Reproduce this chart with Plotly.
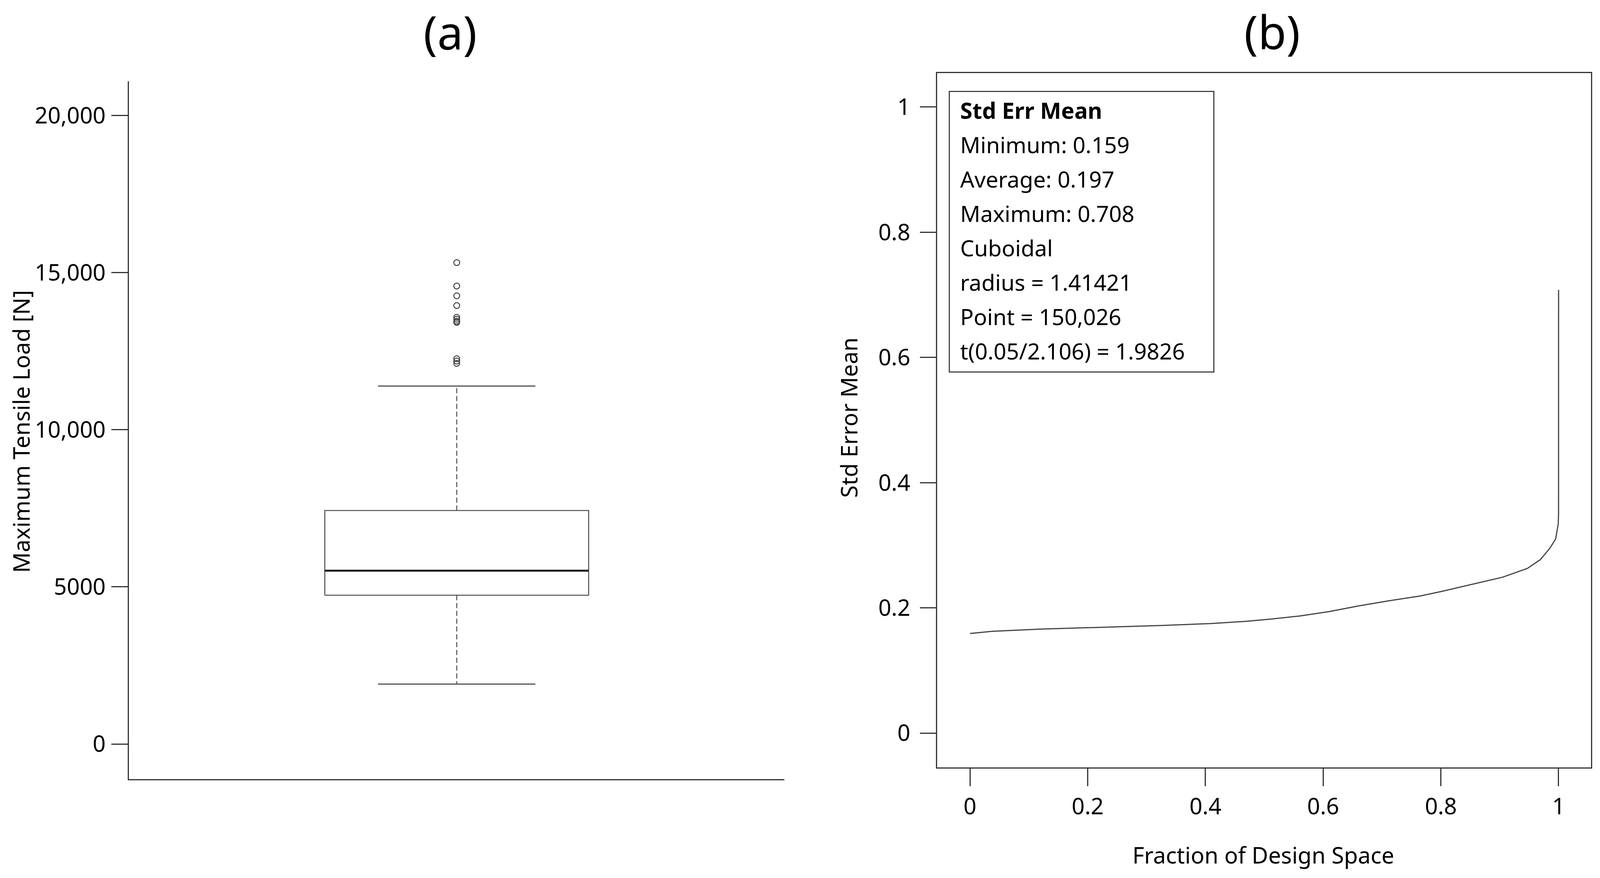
import plotly.graph_objects as go

# ---------------- data ----------------
# Panel (a): Maximum tensile load box-plot statistics [N]
box_q1 = 4735
box_median = 5515
box_q3 = 7430
whisker_low = 1905
whisker_high = 11390
outliers = [15320, 14574, 14263, 13952, 13580, 13517, 13455, 13418, 12261, 12187, 12112]
y_ticks_a = [0, 5000, 10000, 15000, 20000]
y_ticklabels_a = ["0", "5000", "10,000", "15,000", "20,000"]

# Panel (b): Fraction of design space curve
fds_x = [0.0, 0.04, 0.12, 0.23, 0.33, 0.41, 0.47, 0.51, 0.56, 0.61, 0.66, 0.71,
         0.765, 0.80, 0.865, 0.905, 0.947, 0.969, 0.985, 0.995, 0.9994, 0.99995, 1.0]
fds_y = [0.159, 0.1627, 0.166, 0.169, 0.172, 0.175, 0.1785, 0.182, 0.187, 0.194, 0.203, 0.211,
         0.219, 0.226, 0.240, 0.249, 0.263, 0.277, 0.295, 0.310, 0.334, 0.350, 0.708]
ticks_b = [0, 0.2, 0.4, 0.6, 0.8, 1]
ticklabels_b = ["0", "0.2", "0.4", "0.6", "0.8", "1"]

info_lines = ["<b>Std Err Mean</b>", "Minimum: 0.159", "Average: 0.197", "Maximum: 0.708",
              "Cuboidal", "radius = 1.41421", "Point = 150,026", "t(0.05/2.106) = 1.9826"]

# ---------------- style ----------------
RW, H = 4330, 2247          # reference layout size (positions below given in it)
W = 4096                    # usable browser width
SX = W / RW
FONT = "Noto Sans"
AX = "#333333"
LINE = "#444444"
center = 0.0
half_box = 0.4025
half_cap = 0.240
FS = 58

fig = go.Figure()

# box body
fig.add_trace(go.Scatter(
    x=[center - half_box, center + half_box, center + half_box, center - half_box, center - half_box],
    y=[box_q1, box_q1, box_q3, box_q3, box_q1],
    mode="lines", line=dict(color="#505050", width=2.6), xaxis="x", yaxis="y"))
# median
fig.add_trace(go.Scatter(
    x=[center - half_box, center + half_box], y=[box_median, box_median],
    mode="lines", line=dict(color="#1a1a1a", width=5), xaxis="x", yaxis="y"))
# whiskers (dashed)
fig.add_trace(go.Scatter(
    x=[center, center, None, center, center],
    y=[box_q3, whisker_high, None, box_q1, whisker_low],
    mode="lines", line=dict(color="#505050", width=2.5, dash="13px,7px"), xaxis="x", yaxis="y"))
# whisker caps
fig.add_trace(go.Scatter(
    x=[center - half_cap, center + half_cap, None, center - half_cap, center + half_cap],
    y=[whisker_high, whisker_high, None, whisker_low, whisker_low],
    mode="lines", line=dict(color="#505050", width=3), xaxis="x", yaxis="y"))
# outliers
fig.add_trace(go.Scatter(
    x=[center] * len(outliers), y=outliers, mode="markers",
    marker=dict(symbol="circle-open", size=15, color="#444444", line=dict(width=2.5)),
    xaxis="x", yaxis="y"))

# panel (b) curve
fig.add_trace(go.Scatter(x=fds_x, y=fds_y, mode="lines",
                         line=dict(color=LINE, width=3), xaxis="x2", yaxis="y2"))

tickfont = dict(family=FONT, size=FS, color="black")

fig.update_layout(
    width=W, height=H, autosize=False,
    margin=dict(l=0, r=0, t=0, b=0),
    paper_bgcolor="white", plot_bgcolor="white",
    showlegend=False,
    font=dict(family=FONT, color="black"),
    xaxis=dict(domain=[349 / RW, 2123 / RW], range=[-1, 1], showline=True, linecolor=AX,
               linewidth=3, showticklabels=False, ticks="", showgrid=False, zeroline=False,
               anchor="y"),
    yaxis=dict(domain=[(H - 1994) / H, (H - 208) / H], range=[-1119, 21090], showline=True,
               linecolor=AX, linewidth=3, tickvals=y_ticks_a, ticktext=y_ticklabels_a,
               ticks="outside", ticklen=round(44 * SX), tickwidth=3, tickcolor=AX, showgrid=False,
               zeroline=False, tickfont=tickfont, ticklabelstandoff=3, anchor="x"),
    xaxis2=dict(domain=[2536 / RW, 4306 / RW], range=[-0.0559, 1.0553], showline=True,
                mirror=True, linecolor=AX, linewidth=3, tickvals=ticks_b, ticktext=ticklabels_b,
                ticks="outside", ticklen=45, tickwidth=3, tickcolor=AX, showgrid=False,
                zeroline=False, tickfont=tickfont, ticklabelstandoff=2, anchor="y2"),
    yaxis2=dict(domain=[(H - 1964) / H, (H - 187) / H], range=[-0.0549, 1.0543], showline=True,
                mirror=True, linecolor=AX, linewidth=3, tickvals=ticks_b, ticktext=ticklabels_b,
                ticks="outside", ticklen=round(43 * SX), tickwidth=3, tickcolor=AX, showgrid=False,
                zeroline=False, tickfont=tickfont, ticklabelstandoff=13, anchor="x2"),
)

ann = []
ann.append(dict(text="(a)", x=1218 / RW, y=1 - 82 / H, xref="paper", yref="paper",
                xanchor="center", yanchor="middle", showarrow=False,
                font=dict(family=FONT, size=118, color="black")))
ann.append(dict(text="(b)", x=3443 / RW, y=1 - 80 / H, xref="paper", yref="paper",
                xanchor="center", yanchor="middle", showarrow=False,
                font=dict(family=FONT, size=118, color="black")))
ann.append(dict(text="Maximum Tensile Load [N]", x=56 / RW, y=1 - 1104 / H, xref="paper",
                yref="paper", xanchor="center", yanchor="middle", textangle=-90,
                showarrow=False, font=dict(family=FONT, size=FS, color="black")))
ann.append(dict(text="Std Error Mean", x=2296 / RW, y=1 - 1069 / H, xref="paper",
                yref="paper", xanchor="center", yanchor="middle", textangle=-90,
                showarrow=False, font=dict(family=FONT, size=FS, color="black")))
ann.append(dict(text="Fraction of Design Space", x=3419 / RW, y=1 - 2187 / H, xref="paper",
                yref="paper", xanchor="center", yanchor="middle",
                showarrow=False, font=dict(family=FONT, size=FS, color="black")))
for i, t in enumerate(info_lines):
    ann.append(dict(text=t, x=2596 / RW, y=1 - (282 + 88 * i) / H, xref="paper", yref="paper",
                    xanchor="left", yanchor="middle", showarrow=False, align="left",
                    font=dict(family=FONT, size=57, color="black")))
fig.update_layout(annotations=ann)

fig.add_shape(type="rect", xref="paper", yref="paper",
              x0=2569 / RW, x1=3285 / RW, y0=1 - 952 / H, y1=1 - 234 / H,
              line=dict(color="#222222", width=2.5), fillcolor="rgba(0,0,0,0)")

# remove the default page margin so the figure fills the window exactly
fig.write_html("out.html", config={"displayModeBar": False},
               post_script="document.body.style.margin='0';")
